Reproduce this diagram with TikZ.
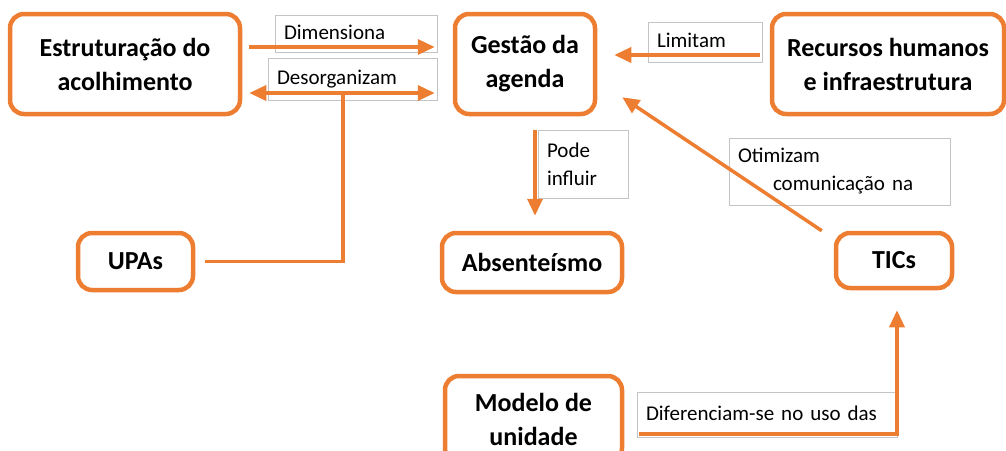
\documentclass[tikz,border=0pt]{standalone}
\usepackage{fontspec}
\setmainfont{Carlito}
\usetikzlibrary{arrows.meta}
\definecolor{laranja}{HTML}{ED7D31}
\definecolor{cinza}{HTML}{C4C4C4}

\begin{document}
\begin{tikzpicture}[x=1pt,y=-1pt,
    caixa/.style={draw=laranja,line width=4.5pt,rounded corners=14pt,fill=white,
      align=center,font=\fontsize{26}{34}\selectfont\bfseries,inner sep=0pt},
    rotulo/.style={draw=cinza,line width=0.8pt,fill=white,align=left,
      font=\fontsize{21}{28}\selectfont,inner xsep=9pt,inner ysep=0pt},
    seta/.style={draw=laranja,line width=3.5pt,-{Triangle[length=17pt,width=15pt]}},
    linha/.style={draw=laranja,line width=3.5pt}]
  \clip (0,0) rectangle (1006,450);

  % labels of the links
  \node[rotulo,text width=144pt,minimum height=37pt] (dimL) at (356,33.5) {\raisebox{2pt}{Dimensiona}};
  \node[rotulo,text width=151pt,minimum height=42pt] (desL) at (352.5,79) {\raisebox{1pt}{Desorganizam}};
  \node[rotulo,text width=96pt,minimum height=40pt] (limL) at (705,42) {\raisebox{4pt}{Limitam}};
  \node[rotulo,text width=72pt,minimum height=68pt] (podL) at (583,164) {Pode\\influir};
  \node[rotulo,text width=203pt,minimum height=67pt] (otiL) at (839.5,171.5) {Otimizam\\\hspace{35pt}comunica\c{c}\~ao na};
  \node[rotulo,text width=242pt,minimum height=45pt] (difL) at (767,414.5) {\raisebox{3pt}{Diferenciam-se no uso das}};

  % boxes
  \node[caixa,minimum width=230pt,minimum height=100pt] (estr) at (125,64) {Estrutura\c{c}\~ao do\\acolhimento};
  \node[caixa,minimum width=140pt,minimum height=100pt] (gest) at (525,64) {Gest\~ao da\\agenda};
  \node[caixa,minimum width=232pt,minimum height=100pt] (recu) at (888,64) {Recursos humanos\\e infraestrutura};
  \node[caixa,minimum width=115pt,minimum height=57pt] (upas) at (135.5,261.5) {UPAs};
  \node[caixa,minimum width=180pt,minimum height=59pt] (abse) at (532,262.5) {Absente\'ismo};
  \node[caixa,minimum width=116pt,minimum height=55pt] (tics) at (894,260.5) {\raisebox{-2pt}{TICs}};
  \node[caixa,minimum width=177pt,minimum height=86pt] (mode) at (533.5,419) {Modelo de\\unidade};

  \coordinate (junc) at (343,93);

  \draw[seta] ([xshift=7pt,yshift=17pt]estr.east) -- ([xshift=-18pt,yshift=17pt]gest.west);
  \draw[seta,{Triangle[length=17pt,width=15pt]}-{Triangle[length=17pt,width=15pt]}]
    ([xshift=7pt,yshift=-29pt]estr.east) -- ([xshift=-18pt,yshift=-29pt]gest.west);
  \draw[linha] ([xshift=10pt]upas.east) -| (junc);
  \draw[seta] ([xshift=-10pt,yshift=9pt]recu.west) -- ([xshift=17pt,yshift=9pt]gest.east);
  \draw[seta] ([xshift=10pt,yshift=-14pt]gest.south) -- ([xshift=3pt,yshift=15pt]abse.north);
  \draw[seta] ([xshift=-12pt]tics.north west) -- ([xshift=25pt,yshift=19pt]gest.south east);
  \draw[seta] ([xshift=15pt,yshift=-15pt]mode.east) -| ([xshift=3pt,yshift=-20pt]tics.south);
\end{tikzpicture}
\end{document}
